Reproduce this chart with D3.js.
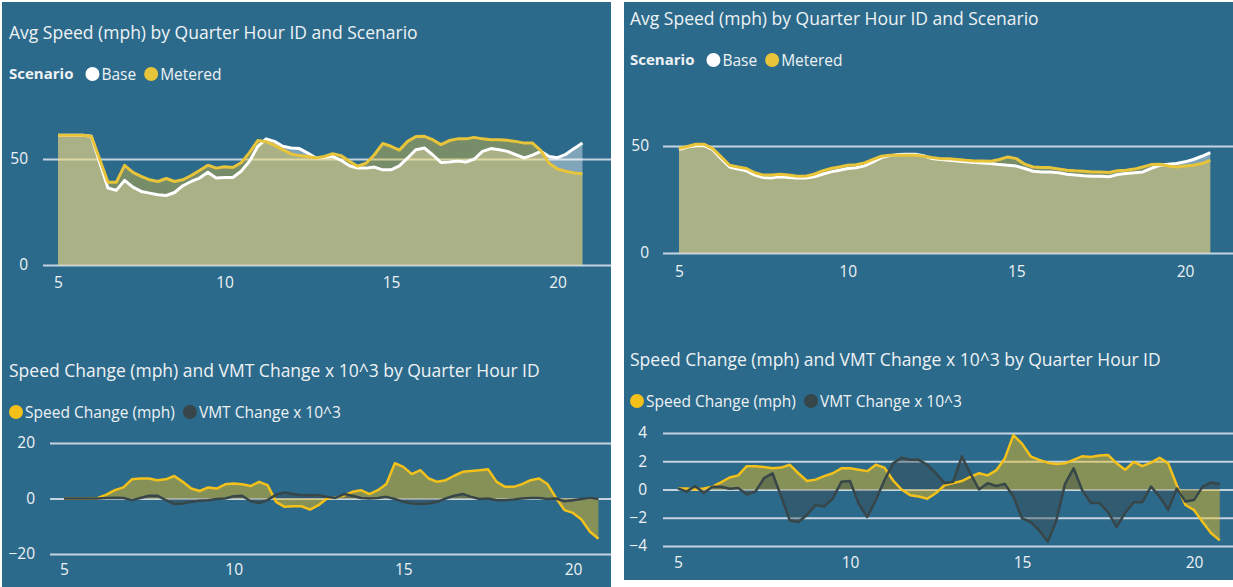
<!DOCTYPE html>
<html>
<head>
<meta charset="utf-8">
<script src="https://cdn.jsdelivr.net/npm/d3@7"></script>
<style>
body { margin: 0; background: #ffffff; }
svg text { font-family: "Segoe UI", "Open Sans", sans-serif; }
</style>
</head>
<body>
<script>
// quarter hour ids shared by all four charts
var quarterHourIds = [
    5, 5.25, 5.5, 5.75, 6, 6.25, 6.5, 6.75,
    7, 7.25, 7.5, 7.75, 8, 8.25, 8.5, 8.75,
    9, 9.25, 9.5, 9.75, 10, 10.25, 10.5, 10.75,
    11, 11.25, 11.5, 11.75, 12, 12.25, 12.5, 12.75,
    13, 13.25, 13.5, 13.75, 14, 14.25, 14.5, 14.75,
    15, 15.25, 15.5, 15.75, 16, 16.25, 16.5, 16.75,
    17, 17.25, 17.5, 17.75, 18, 18.25, 18.5, 18.75,
    19, 19.25, 19.5, 19.75, 20, 20.25, 20.5, 20.75
];

// left page: avg speed
var leftBase = [
    61.2, 61.2, 61.2, 61.2, 60.7, 48.5, 36.3, 35.2,
    39.9, 36.7, 34.7, 33.9, 33.1, 32.8, 34.2, 37.4,
    39.4, 41, 43.7, 41, 41.3, 41.3, 44.2, 48.9,
    56, 59.5, 58.3, 56, 55.2, 54.9, 52.8, 50.5,
    50.8, 51.2, 49.4, 46.8, 45.7, 45.7, 46.2, 44.9,
    44.9, 46.8, 50.5, 54.4, 55.2, 52, 48.4, 48.6,
    49, 48.6, 50, 53.6, 54.9, 54.4, 53.6, 52,
    50.5, 51.8, 53.6, 51.2, 50.6, 52.2, 55, 57.6
];
var leftMetered = [
    61.2, 61.2, 61.2, 61.2, 60.7, 50, 39, 39,
    47, 43.7, 41.8, 40.2, 39.4, 40.8, 39.4, 40.2,
    42.2, 44.6, 47.1, 45.7, 46.3, 46, 48.2, 53,
    58.7, 58.2, 56.5, 54.4, 52.4, 51.6, 51.2, 50.5,
    51.2, 52.5, 51.6, 48.9, 46.6, 48, 52, 57.3,
    56, 54.2, 58.3, 60.6, 60.7, 59.1, 56.8, 58.7,
    59.5, 59.5, 60.2, 59.5, 59.1, 59.1, 58.8, 58.3,
    57.5, 57.5, 54, 48, 45.3, 44.2, 43.4, 43
];

// left page: changes
var leftSpeedChange = [
    0, 0, 0, 0, 0.2, 1.4, 3, 4,
    6.9, 7.2, 7.2, 6.6, 6.9, 8.1, 6, 3.6,
    2.7, 4, 3.6, 5.1, 5.4, 5.1, 4.5, 6,
    4.8, -1.2, -3, -2.8, -2.8, -4, -2.4, 0,
    0.4, 1, 2.4, 3, 1.6, 3, 5.2, 12.7,
    11.4, 8.8, 10.2, 7.2, 6, 6.6, 8.2, 9.6,
    9.9, 10.2, 10.5, 6, 4.2, 4.2, 5.2, 6.6,
    7.2, 5.2, 0.2, -4.2, -5.2, -7.6, -12, -14.5
];
var leftVmtChange = [
    0, 0, 0, 0, 0, 0.2, 0.3, 0.2,
    -0.6, 0.2, 1, 1, -0.6, -2, -1.8, -1.2,
    -0.8, -0.6, -0.2, 0, 0.8, 1, -1, -1.6,
    -0.6, 1.4, 2.2, 1.6, 1.2, 1.3, 1.2, 0.6,
    0.2, 1.6, 1, 0.2, 0, 0.2, 0.6, -0.2,
    -1.2, -1.8, -2, -1.8, -1.2, 0, 1, 1.6,
    0.6, -0.2, 0, -0.6, -0.6, -0.4, 0, 0.2,
    0.2, -0.2, 0, -1, -0.6, -0.2, 0.2, -0.2
];

// right page: avg speed
var rightBase = [
    48.3, 49.5, 50.2, 50.2, 48.3, 44.1, 40.2, 39.2,
    38.4, 36.4, 35.3, 35.1, 35.6, 35.3, 35, 35,
    35.6, 36.8, 37.9, 38.7, 39.5, 39.8, 40.7, 42.6,
    44.6, 45.5, 46, 46.1, 46.1, 45.5, 44.1, 43.7,
    43.3, 43, 42.6, 42.3, 42.1, 41.8, 41.3, 41,
    40.6, 39.5, 38.2, 37.9, 37.9, 37.5, 36.8, 36.4,
    36.1, 35.9, 35.9, 35.6, 36.7, 37.2, 37.5, 37.9,
    39.5, 41, 41.5, 41.8, 42.6, 43.7, 45.2, 46.9
];
var rightMetered = [
    48.8, 49.8, 50.8, 50.8, 48.8, 44.9, 41, 40.2,
    39.5, 37.5, 36.4, 36.4, 36.8, 36.4, 35.9, 35.9,
    36.8, 38.4, 39.5, 40.2, 41, 41.2, 42.1, 43.7,
    45.2, 45.7, 45.7, 45.7, 45.7, 45.2, 44.6, 44.1,
    44, 43.7, 43.3, 43, 43, 42.9, 43.7, 44.9,
    44.1, 41.5, 40.2, 39.9, 39.9, 39.3, 38.7, 38.4,
    38.2, 37.9, 37.8, 37.6, 38.4, 38.7, 39.2, 40.2,
    41.3, 41.5, 40.7, 40.2, 40.7, 41, 41.8, 43.3
];

// right page: changes
var rightSpeedChange = [
    0.07, 0.07, 0, 0.07, 0.2, 0.5, 0.85, 1.0,
    1.65, 1.65, 1.6, 1.5, 1.55, 1.75, 1.15, 0.6,
    0.7, 0.95, 1.15, 1.5, 1.5, 1.4, 1.3, 1.75,
    1.55, 0.65, 0, -0.4, -0.5, -0.65, -0.25, 0.3,
    0.45, 0.6, 0.9, 1.15, 1.0, 1.35, 2.2, 3.85,
    3.25, 2.35, 2.1, 1.9, 1.8, 1.85, 2.1, 2.35,
    2.3, 2.4, 2.45, 1.85, 1.4, 1.95, 1.65, 1.9,
    2.25, 1.85, 0.3, -1.1, -1.45, -2.3, -3.1, -3.6
];
var rightVmtChange = [
    0.07, -0.15, 0.25, -0.25, 0.2, 0.2, 0.05, 0.1,
    -0.35, -0.15, 0.8, 1.15, -0.5, -2.2, -2.3, -1.8,
    -1.1, -1.2, -0.65, 0.55, 0.6, -1.0, -1.95, -0.75,
    0.65, 1.85, 2.25, 2.1, 2.1, 1.75, 1.15, 0.45,
    0.55, 2.35, 1.15, 0, 0.45, 0.25, 0.4, -0.5,
    -2.05, -2.3, -2.9, -3.7, -2.2, 0.4, 1.5, -0.05,
    -0.95, -0.95, -1.6, -2.65, -1.65, -0.9, -0.9, 0.2,
    -0.5, -1.45, 0.07, -0.85, -0.75, 0.2, 0.5, 0.4
];

var xTicks = [5, 10, 15, 20];

var bgColor = "#2c6a8b",
    gridColor = "#c3d3df",
    textColor = "#eef2f5",
    baseColor = "#ffffff",
    meteredColor = "#e8c43a",
    speedColor = "#f4c01a",
    vmtColor = "#374649";

var svg = d3.select("body").append("svg")
    .attr("width", 1233)
    .attr("height", 587);

svg.append("rect")
    .attr("x", 2).attr("y", 2)
    .attr("width", 609).attr("height", 585)
    .attr("fill", bgColor);

svg.append("rect")
    .attr("x", 624).attr("y", 2)
    .attr("width", 609).attr("height", 578)
    .attr("fill", bgColor);

function drawChart(c) {
    var g = svg.append("g");

    var x = d3.scaleLinear()
        .domain([5, 20])
        .range([c.x5, c.x20]);
    var y = d3.scaleLinear()
        .domain(c.yRef)
        .range(c.yRefPx);

    g.append("text")
        .attr("x", c.left)
        .attr("y", c.titleY)
        .attr("fill", textColor)
        .style("font-size", "17.5px")
        .text(c.title);

    // legend, laid out left to right
    var lx = c.left;
    if (c.legendTitle) {
        var lt = g.append("text")
            .attr("x", lx)
            .attr("y", c.legendY + 5)
            .attr("fill", textColor)
            .style("font-size", "15px")
            .style("font-weight", "bold")
            .text(c.legendTitle);
        lx += lt.node().getComputedTextLength() + 12;
    }
    c.series.forEach(function(s) {
        g.append("circle")
            .attr("cx", lx + 7)
            .attr("cy", c.legendY)
            .attr("r", 7)
            .attr("fill", s.color);
        var t = g.append("text")
            .attr("x", lx + 16)
            .attr("y", c.legendY + 5.5)
            .attr("fill", textColor)
            .style("font-size", "15.5px")
            .text(s.name);
        lx += 16 + t.node().getComputedTextLength() + 8;
    });

    // gridlines + y labels
    var yAxis = d3.axisLeft(y)
        .tickValues(c.yTicks)
        .tickSize(-(c.gridRight - c.gridLeft))
        .tickPadding(c.labelPad);
    g.append("g")
        .attr("transform", "translate(" + c.gridLeft + ",0)")
        .call(yAxis)
        .call(function(a) {
            a.select(".domain").remove();
            a.selectAll("line")
                .attr("stroke", gridColor)
                .attr("stroke-width", 2);
            a.selectAll("text")
                .attr("fill", textColor)
                .attr("font-family", null)
                .style("font-size", "15.5px");
        });

    var xAxis = d3.axisBottom(x)
        .tickValues(xTicks)
        .tickSize(0)
        .tickFormat(d3.format("d"));
    g.append("g")
        .attr("transform", "translate(0," + c.xLabelY + ")")
        .call(xAxis)
        .call(function(a) {
            a.select(".domain").remove();
            a.selectAll("text")
                .attr("y", 0)
                .attr("dy", "0.35em")
                .attr("fill", textColor)
                .style("font-size", "15.5px");
        });

    var area = d3.area()
        .x(function(d, i) { return x(quarterHourIds[i]); })
        .y0(y(0))
        .y1(function(d) { return y(d); });
    var line = d3.line()
        .x(function(d, i) { return x(quarterHourIds[i]); })
        .y(function(d) { return y(d); });

    c.series.forEach(function(s) {
        g.append("path")
            .datum(s.values)
            .attr("d", area)
            .attr("fill", s.color)
            .attr("fill-opacity", s.fillOpacity);
    });
    c.series.forEach(function(s) {
        g.append("path")
            .datum(s.values)
            .attr("d", line)
            .attr("fill", "none")
            .attr("stroke", s.color)
            .attr("stroke-width", s.width)
            .attr("stroke-linejoin", "round");
    });
}

var speedTitle = "Avg Speed (mph) by Quarter Hour ID and Scenario";
var changeTitle = "Speed Change (mph) and VMT Change x 10^3 by Quarter Hour ID";

drawChart({
    title: speedTitle, left: 9, titleY: 39,
    legendTitle: "Scenario", legendY: 74,
    x5: 58, x20: 557.5,
    yRef: [0, 50], yRefPx: [265, 159], yTicks: [0, 50],
    gridLeft: 43, gridRight: 611, labelPad: 15, xLabelY: 283,
    series: [
        { name: "Base", values: leftBase, color: baseColor, fillOpacity: 0.4, width: 3 },
        { name: "Metered", values: leftMetered, color: meteredColor, fillOpacity: 0.4, width: 3 }
    ]
});

drawChart({
    title: changeTitle, left: 9, titleY: 377,
    legendY: 412,
    x5: 64, x20: 573,
    yRef: [-20, 20], yRefPx: [554, 443], yTicks: [-20, 0, 20],
    gridLeft: 50, gridRight: 611, labelPad: 15, xLabelY: 570,
    series: [
        { name: "Speed Change (mph)", values: leftSpeedChange, color: speedColor, fillOpacity: 0.45, width: 2.5 },
        { name: "VMT Change x 10^3", values: leftVmtChange, color: vmtColor, fillOpacity: 0.4, width: 2.5 }
    ]
});

drawChart({
    title: speedTitle, left: 630, titleY: 25,
    legendTitle: "Scenario", legendY: 60,
    x5: 679, x20: 1185,
    yRef: [0, 50], yRefPx: [253, 146], yTicks: [0, 50],
    gridLeft: 663, gridRight: 1233, labelPad: 14, xLabelY: 272,
    series: [
        { name: "Base", values: rightBase, color: baseColor, fillOpacity: 0.4, width: 3 },
        { name: "Metered", values: rightMetered, color: meteredColor, fillOpacity: 0.4, width: 3 }
    ]
});

drawChart({
    title: changeTitle, left: 630, titleY: 366,
    legendY: 401,
    x5: 678, x20: 1194,
    yRef: [-4, 4], yRefPx: [546, 433], yTicks: [-4, -2, 0, 2, 4],
    gridLeft: 663, gridRight: 1233, labelPad: 16, xLabelY: 563,
    series: [
        { name: "Speed Change (mph)", values: rightSpeedChange, color: speedColor, fillOpacity: 0.45, width: 2.5 },
        { name: "VMT Change x 10^3", values: rightVmtChange, color: vmtColor, fillOpacity: 0.4, width: 2.5 }
    ]
});
</script>
</body>
</html>
